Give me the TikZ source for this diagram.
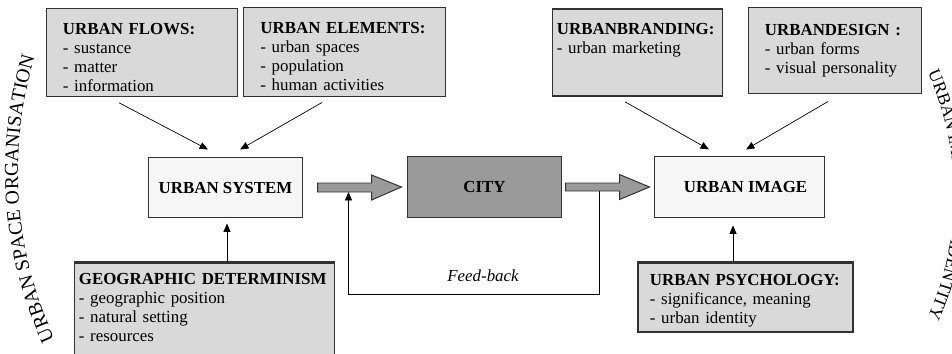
\documentclass[tikz,border=0pt]{standalone}
\usepackage{fontspec}
\setmainfont{Liberation Serif}
\usetikzlibrary{arrows.meta,positioning,calc,decorations.text}
\definecolor{boxgray}{RGB}{217,217,217}
\definecolor{citygray}{RGB}{154,154,154}
\definecolor{palegray}{RGB}{246,246,246}
\definecolor{linegray}{RGB}{50,50,50}

\begin{document}
\begin{tikzpicture}[x=0.025cm, y=0.025cm,
  every node/.style={font=\fontsize{12}{13.5}\selectfont},
  infobox/.style={draw=linegray, line width=0.7pt, fill=boxgray, align=left},
  heavybox/.style={infobox, line width=1.1pt},
  lowtext/.style={execute at begin node={\rule{0pt}{#1}}},
  mainbox/.style={draw=linegray, line width=0.7pt, fill=palegray,
                  align=center, font=\fontsize{12}{13.5}\selectfont\bfseries},
  arrow/.style={-{Triangle[length=6pt,width=5pt]}, line width=0.5pt},
  bigarrow/.style={draw=linegray, line width=0.7pt, fill=citygray},
]

\useasboundingbox (0,0) rectangle (952,-354);
\clip (0,0) rectangle (952,-354);

%% Input boxes on top
\node[infobox, lowtext=15pt, minimum width=4.75cm, minimum height=2.175cm, text width=3.95cm]
  (flows) at (142,-52.5) {\textbf{URBAN FLOWS:}\\- sustance\\- matter\\- information};
\node[infobox, lowtext=15pt, minimum width=5.025cm, minimum height=2.2cm, text width=4.2cm]
  (elements) at (344.5,-52) {\textbf{URBAN ELEMENTS:}\\- urban spaces\\- population\\- human activities};
\node[heavybox, minimum width=4.225cm, minimum height=2.175cm, text width=4.025cm]
  (branding) at (637.5,-52.5) {\textbf{URBANBRANDING:}\\- urban marketing\\[7pt]\mbox{}};
\node[infobox, minimum width=4.3cm, minimum height=2.125cm, text width=3.5cm]
  (design) at (835,-50.5) {\textbf{URBANDESIGN :}\\- urban forms\\- visual personality\\[-3pt]};

%% Main chain
\node[mainbox, minimum width=3.825cm, minimum height=1.475cm]
  (system) at (225.5,-187.5) {URBAN SYSTEM};
\node[mainbox, fill=citygray, minimum width=3.825cm, minimum height=1.5cm]
  (city) at (484.5,-187) {CITY};
\node[mainbox, minimum width=4.225cm, minimum height=1.5cm]
  (image) at (739.5,-187) {\hspace{0.3cm}URBAN IMAGE};

%% Input boxes below
\node[heavybox, minimum width=6.375cm, minimum height=2.675cm, text width=6.275cm]
  (geo) at (204.5,-316.5) {\textbf{GEOGRAPHIC DETERMINISM}\\- geographic position\\- natural setting\\- resources\\\mbox{}};
\node[heavybox, lowtext=12pt, minimum width=5.375cm, minimum height=1.725cm, text width=4.775cm]
  (psych) at (745.5,-297.5) {\textbf{URBAN PSYCHOLOGY:}\\- significance, meaning\\- urban identity};
\draw[linegray, line width=1.6pt] (geo.north west) -- (geo.north east);
\draw[linegray, line width=1.6pt] (psych.north west) -- (psych.north east);

%% Thin arrows into the main chain
\draw[arrow] ($(flows.south)+(-23,-6)$) -- ($(system.north)+(-17.5,8)$);
\draw[arrow] ($(elements.south)+(-22.5,-6)$) -- ($(system.north)+(14.5,8)$);
\draw[arrow] ($(branding.south)+(-12.5,-5)$) -- ($(image.north)+(-30.5,7)$);
\draw[arrow] ($(design.south)+(-7,-8)$) -- ($(image.north)+(6.5,7)$);
\draw[arrow] ($(geo.north)+(22.5,0)$) -- ($(system.south)+(1.5,-6)$);
\draw[arrow] ($(psych.north)+(-12.5,0)$) -- ($(image.south)+(-6.5,-8)$);

%% Block arrows
\draw[bigarrow] ($(system.east)+(15,4.5)$) -- ++(54,0) -- ++(0,8)
  -- ($(city.west)+(-6,0)$) -- ($(system.east)+(69,-12.5)$) -- ++(0,8)
  -- ($(system.east)+(15,-4.5)$) -- cycle;
\draw[bigarrow] ($(city.east)+(4,4)$) -- ++(54,0) -- ++(0,8.5)
  -- ($(image.west)+(-5,0)$) -- ($(city.east)+(58,-12.5)$) -- ++(0,8.5)
  -- ($(city.east)+(4,-4)$) -- cycle;

%% Feed-back loop
\coordinate (fbout) at ($(city.east)+(38,-4)$);
\coordinate (fbin) at ($(system.east)+(46,-4.5)$);
\draw[arrow] (fbout) -- ++(0,-103) -| (fbin);
\node[font=\fontsize{12}{13.5}\selectfont\itshape] (fblabel) at (483,-276) {Feed-back};

%% Curved side titles
\path[decorate, decoration={text along path, text align=center,
    text={|\fontsize{14}{16}\selectfont|URBAN SPACE ORGANISATION}}]
  ($(418,-172)+(210:400)$) arc[start angle=210, end angle=158, radius=10cm];
\path[decorate, decoration={text along path, text align=center,
    text={|\fontsize{12.5}{14}\selectfont|URBAN IMAGE AND IDENTITY}}]
  ($(654,-195)+(27:300)$) arc[start angle=27, end angle=-27, radius=7.5cm];

\end{tikzpicture}
\end{document}
